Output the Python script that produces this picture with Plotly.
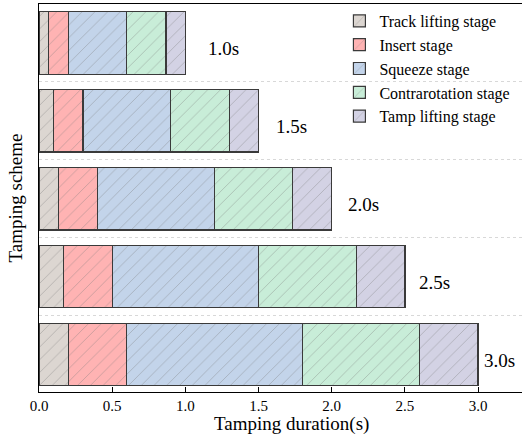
import plotly.graph_objects as go

schemes = ["1.0s", "1.5s", "2.0s", "2.5s", "3.0s"]
stages = ["Track lifting stage", "Insert stage", "Squeeze stage",
          "Contrarotation stage", "Tamp lifting stage"]
track_lifting = [0.067, 0.1, 0.133, 0.167, 0.2]
insert = [0.133, 0.2, 0.267, 0.333, 0.4]
squeeze = [0.4, 0.6, 0.8, 1.0, 1.2]
contrarotation = [0.267, 0.4, 0.533, 0.667, 0.8]
tamp_lifting = [0.133, 0.2, 0.267, 0.333, 0.4]
x_ticks = [0.0, 0.5, 1.0, 1.5, 2.0, 2.5, 3.0]

series = [track_lifting, insert, squeeze, contrarotation, tamp_lifting]
colors = ["#dcd6d1", "#ffb3b3", "#c3d4ea", "#c8edd8", "#d3d2e4"]
label_shift = [21, 15, 14, 12, 4]
FONT = "Liberation Serif"

fig = go.Figure()
for name, vals, col in zip(stages, series, colors):
    fig.add_trace(go.Bar(
        y=schemes, x=vals, name=name, orientation="h", width=0.8,
        marker=dict(color=col, line=dict(color="#3a3a3a", width=1.2),
                    pattern=dict(shape="/", size=9, solidity=0.08,
                                 fgcolor="#7a7a7a", bgcolor=col)),
    ))

totals = [sum(v) for v in zip(*series)]
for s, t, dx in zip(schemes, totals, label_shift):
    fig.add_annotation(x=t, y=s, text=s, showarrow=False, xanchor="left",
                       xshift=dx, yshift=-6, font=dict(family=FONT, size=19, color="black"))

fig.add_annotation(x=0.522, y=0, xref="paper", yref="paper", text="Tamping duration(s)",
                   showarrow=False, yanchor="top", yshift=-19,
                   font=dict(family=FONT, size=19, color="black"))

fig.update_layout(
    width=522, height=436, barmode="stack",
    margin=dict(l=39, r=0, t=4, b=44, autoexpand=False),
    plot_bgcolor="white", paper_bgcolor="white",
    font=dict(family=FONT, size=15, color="black"),
    legend=dict(x=0.622, y=1.0, xanchor="left", yanchor="top",
                bgcolor="rgba(0,0,0,0)", traceorder="normal",
                font=dict(family=FONT, size=16, color="black")),
    xaxis=dict(range=[0, 3.3], tickvals=x_ticks, tickformat=".1f",
               ticks="inside", ticklen=5, tickcolor="black", automargin=False,
               showline=True, linecolor="black", linewidth=1.3, mirror=True,
               showgrid=False, zeroline=False,
               tickfont=dict(family=FONT, size=15, color="black")),
    yaxis=dict(type="category", range=[4.48, -0.5], showticklabels=False,
               tickson="boundaries", ticks="", showgrid=True, griddash="dot",
               gridcolor="#d8d8d8", gridwidth=1, automargin=False,
               showline=True, linecolor="black", linewidth=1.3,
               title=dict(text="Tamping scheme", standoff=10,
                          font=dict(family=FONT, size=19, color="black"))),
)

fig.write_html("out.html", config={"displayModeBar": False},
               post_script="document.body.style.margin='0';document.body.style.overflow='hidden';")
